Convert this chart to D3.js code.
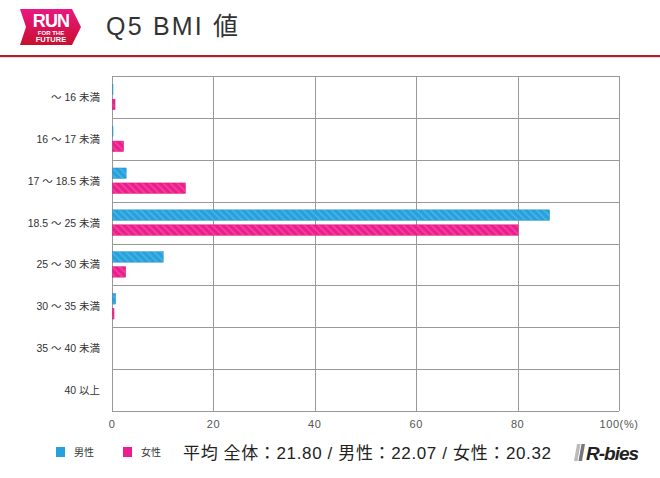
<!DOCTYPE html>
<html><head><meta charset="utf-8">
<script src="https://cdn.jsdelivr.net/npm/d3@7/dist/d3.min.js"></script>
<style>body{margin:0;background:#fff}svg{display:block}</style>
</head><body>
<svg id="c" width="660" height="478"></svg>
<script>
const categories = ["～ 16 未満","16 ～ 17 未満","17 ～ 18.5 未満","18.5 ～ 25 未満","25 ～ 30 未満","30 ～ 35 未満","35 ～ 40 未満","40 以上"];
const maleValues = [0.1, 0.1, 2.7, 86.2, 10.0, 0.6, 0, 0];
const femaleValues = [0.5, 2.2, 14.4, 80.0, 2.6, 0.3, 0, 0];
const seriesNames = ["男性","女性"];
const xTicks = [0,20,40,60,80,100];
const titleText = "Q5 BMI 値";
const avgText = "平均  全体：21.80 / 男性：22.07 / 女性：20.32";

const FONT = "'Liberation Sans','Noto Sans CJK JP',sans-serif";
const svg = d3.select("#c");
const defs = svg.append("defs");
const colors = ["#27a1dc","#ee1d8d"];
const stripe = ["#4fb4e4","#f2489f"];
colors.forEach((c,i)=>{
  const p = defs.append("pattern").attr("id","hatch"+i).attr("patternUnits","userSpaceOnUse")
    .attr("width",5).attr("height",5).attr("patternTransform","rotate(-45)");
  p.append("rect").attr("width",5).attr("height",5).attr("fill",c);
  p.append("rect").attr("width",1.5).attr("height",5).attr("fill",stripe[i]);
});
const lg = defs.append("linearGradient").attr("id","logoG").attr("x1",0).attr("y1",0).attr("x2",0).attr("y2",1);
lg.append("stop").attr("offset","0%").attr("stop-color","#ea1782");
lg.append("stop").attr("offset","100%").attr("stop-color","#c8102e");
const rg = defs.append("linearGradient").attr("id","rbG").attr("x1",0).attr("y1",0).attr("x2",1).attr("y2",0);
rg.append("stop").attr("offset","0%").attr("stop-color","#d5d5d5");
rg.append("stop").attr("offset","100%").attr("stop-color","#444");

// Header
svg.append("path").attr("d","M20,9 L72,9 L81,27 L72,45 L20,45 L26,27 Z").attr("fill","url(#logoG)");
svg.append("text").attr("x",51).attr("y",27).attr("text-anchor","middle").attr("fill","#fff")
  .attr("font-family","'Liberation Sans',Arial,sans-serif").attr("font-weight","bold").attr("font-size",18).attr("letter-spacing",-0.8).text("RUN");
svg.append("text").attr("x",51).attr("y",34.5).attr("text-anchor","middle").attr("fill","#fff")
  .attr("font-family","'Liberation Sans',Arial,sans-serif").attr("font-weight","bold").attr("font-size",6).text("FOR THE");
svg.append("text").attr("x",51).attr("y",42).attr("text-anchor","middle").attr("fill","#fff")
  .attr("font-family","'Liberation Sans',Arial,sans-serif").attr("font-weight","bold").attr("font-size",7.5).text("FUTURE");
svg.append("text").attr("x",106).attr("y",35).attr("fill","#333").attr("font-family",FONT)
  .attr("font-size",25).attr("letter-spacing",2.2).text(titleText);
svg.append("rect").attr("x",0).attr("y",55).attr("width",660).attr("height",2).attr("fill","#b71c2b");
svg.append("rect").attr("x",0).attr("y",57).attr("width",660).attr("height",1).attr("fill","#ddd");

// Plot
const m = {left:112, right:619, top:76, bottom:411};
const x = d3.scaleLinear().domain([0,100]).range([m.left,m.right]);
const y = d3.scaleBand().domain(categories).range([m.top,m.bottom]);
const inner = d3.scaleBand().domain([0,1]).range([0,y.bandwidth()]).paddingInner(0.3).paddingOuter(0.55);

const g = svg.append("g");
g.selectAll("line.h").data(categories).join("line").attr("class","h")
  .attr("x1",m.left).attr("x2",m.right)
  .attr("y1",d=>Math.round(y(d))+0.5).attr("y2",d=>Math.round(y(d))+0.5)
  .attr("stroke","#999").attr("stroke-width",1);
g.append("line").attr("x1",m.left).attr("x2",m.right).attr("y1",m.bottom+0.5).attr("y2",m.bottom+0.5)
  .attr("stroke","#999");
g.selectAll("line.v").data(xTicks).join("line").attr("class","v")
  .attr("x1",d=>Math.round(x(d))+0.5).attr("x2",d=>Math.round(x(d))+0.5)
  .attr("y1",m.top).attr("y2",m.bottom).attr("stroke","#999");

const series = [maleValues, femaleValues];
series.forEach((vals,si)=>{
  g.selectAll("rect.s"+si).data(categories).join("rect").attr("class","s"+si)
    .attr("x",x(0)+0.5)
    .attr("y",(d)=>y(d)+inner(si))
    .attr("width",(d,i)=>Math.max(0,x(vals[i])-x(0)))
    .attr("height",inner.bandwidth())
    .attr("fill","url(#hatch"+si+")")
    .attr("stroke",(d,i)=>vals[i]>0?d3.color(colors[si]).darker(0.3):"none").attr("stroke-width",0.5);
});

g.selectAll("text.cat").data(categories).join("text").attr("class","cat")
  .attr("x",100).attr("y",d=>y(d)+y.bandwidth()/2+4).attr("text-anchor","end")
  .attr("font-family",FONT).attr("font-size",10.5).attr("fill","#333").text(d=>d);

g.selectAll("text.xt").data(xTicks).join("text").attr("class","xt")
  .attr("x",d=>x(d)).attr("y",428).attr("text-anchor","middle")
  .attr("font-family",FONT).attr("font-size",11).attr("letter-spacing",0.6).attr("fill","#555")
  .text(d=>d===100?"100(%)":d);

const legX = [56,123];
seriesNames.forEach((n,i)=>{
  svg.append("rect").attr("x",legX[i]).attr("y",447).attr("width",9).attr("height",10).attr("fill",colors[i]);
  svg.append("text").attr("x",legX[i]+18).attr("y",456).attr("font-family",FONT).attr("font-size",10)
    .attr("fill","#333").text(n);
});
svg.append("text").attr("x",183).attr("y",459).attr("font-family",FONT).attr("font-size",17)
  .attr("fill","#222").attr("textLength",368).attr("lengthAdjust","spacing").text(avgText);

// R-bies logo
[0,4.5].forEach((dx,i)=>{
  svg.append("path").attr("d",`M${577+dx},444 L${580.5+dx},444 L${577.5+dx},461 L${574+dx},461 Z`)
    .attr("fill",i===0?"#bbb":"#777");
});
svg.append("text").attr("x",586).attr("y",460).attr("font-family","'Liberation Sans',Arial,sans-serif")
  .attr("font-weight","bold").attr("font-style","italic").attr("font-size",19).attr("letter-spacing",-1)
  .attr("fill","#222").text("R-bies");
</script>
</body></html>
